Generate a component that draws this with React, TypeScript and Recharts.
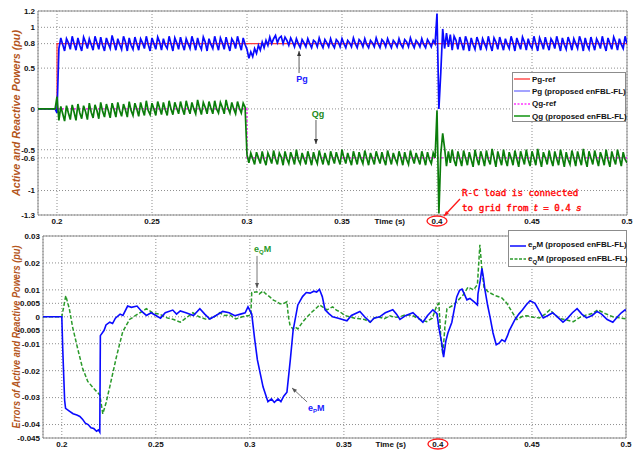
import React from 'react';
import { LineChart, Line, XAxis, YAxis, CartesianGrid, ReferenceArea, ReferenceLine, ReferenceDot } from 'recharts';

// top plot: sampled every 1 ms from 0.19 s to 0.50 s
const T0 = 0.19;
const DT = 0.001;

const pgBefore = [0, 0, 0, 0, 0, 0, 0, 0, 0, 0, -0.05];
// 0.201 .. 0.300
const pgSeg1 = [
  0.74, 0.87, 0.79, 0.71, 0.86, 0.81, 0.73, 0.89, 0.80, 0.72,
  0.87, 0.78, 0.71, 0.88, 0.82, 0.74, 0.86, 0.79, 0.72, 0.89,
  0.81, 0.73, 0.88, 0.78, 0.71, 0.87, 0.80, 0.74, 0.90, 0.81,
  0.72, 0.86, 0.79, 0.73, 0.89, 0.82, 0.71, 0.87, 0.78, 0.73,
  0.88, 0.80, 0.72, 0.86, 0.81, 0.74, 0.89, 0.79, 0.71, 0.87,
  0.80, 0.73, 0.88, 0.82, 0.72, 0.86, 0.78, 0.74, 0.89, 0.80,
  0.71, 0.87, 0.81, 0.73, 0.88, 0.79, 0.72, 0.86, 0.80, 0.74,
  0.89, 0.81, 0.72, 0.87, 0.78, 0.73, 0.88, 0.82, 0.71, 0.86,
  0.79, 0.74, 0.89, 0.80, 0.72, 0.87, 0.81, 0.73, 0.88, 0.79,
  0.71, 0.86, 0.82, 0.74, 0.89, 0.80, 0.72, 0.87, 0.79, 0.73,
];
// 0.301 .. 0.400
const pgSeg2 = [
  0.62, 0.70, 0.64, 0.74, 0.68, 0.78, 0.72, 0.82, 0.75, 0.84,
  0.78, 0.88, 0.80, 0.86, 0.90, 0.81, 0.87, 0.89, 0.80, 0.88,
  0.84, 0.78, 0.87, 0.82, 0.76, 0.86, 0.80, 0.75, 0.85, 0.81,
  0.76, 0.86, 0.80, 0.75, 0.84, 0.82, 0.76, 0.87, 0.80, 0.75,
  0.85, 0.81, 0.76, 0.86, 0.79, 0.75, 0.85, 0.82, 0.76, 0.86,
  0.80, 0.75, 0.84, 0.81, 0.76, 0.87, 0.80, 0.75, 0.85, 0.82,
  0.76, 0.86, 0.79, 0.75, 0.84, 0.81, 0.76, 0.87, 0.80, 0.75,
  0.85, 0.82, 0.76, 0.86, 0.80, 0.75, 0.84, 0.81, 0.76, 0.86,
  0.79, 0.75, 0.85, 0.82, 0.76, 0.87, 0.80, 0.75, 0.84, 0.81,
  0.76, 0.86, 0.79, 0.75, 0.85, 0.81, 0.76, 0.84, 0.80, 1.17,
];
// 0.401 .. 0.500
const pgSeg3 = [
  0.00, 0.45, 0.98, 0.74, 0.93, 0.76, 0.91, 0.72, 0.89, 0.84,
  0.73, 0.88, 0.80, 0.72, 0.89, 0.82, 0.71, 0.87, 0.79, 0.73,
  0.88, 0.81, 0.72, 0.86, 0.80, 0.74, 0.89, 0.79, 0.71, 0.87,
  0.82, 0.73, 0.88, 0.80, 0.72, 0.86, 0.79, 0.74, 0.89, 0.81,
  0.71, 0.87, 0.80, 0.73, 0.88, 0.82, 0.72, 0.86, 0.78, 0.74,
  0.89, 0.80, 0.71, 0.87, 0.81, 0.73, 0.88, 0.79, 0.72, 0.86,
  0.82, 0.74, 0.89, 0.80, 0.71, 0.87, 0.79, 0.73, 0.88, 0.81,
  0.72, 0.86, 0.80, 0.74, 0.89, 0.82, 0.71, 0.87, 0.78, 0.73,
  0.88, 0.80, 0.72, 0.86, 0.81, 0.74, 0.89, 0.79, 0.71, 0.87,
  0.80, 0.73, 0.88, 0.82, 0.72, 0.86, 0.79, 0.74, 0.89, 0.80,
];

const qgBefore = [0, 0, 0, 0, 0, 0, 0, 0, 0, 0, 0.15];
const qgSeg1 = [
  -0.14, 0.03, -0.06, -0.15, 0.04, -0.05, -0.13, 0.05, -0.04, -0.14,
  0.06, -0.05, -0.12, 0.04, -0.03, -0.13, 0.07, -0.04, -0.11, 0.05,
  -0.02, -0.12, 0.08, -0.03, -0.10, 0.06, -0.02, -0.11, 0.07, -0.01,
  -0.10, 0.08, -0.02, -0.09, 0.06, -0.01, -0.10, 0.09, -0.02, -0.08,
  0.07, 0.00, -0.09, 0.08, -0.01, -0.08, 0.10, -0.02, -0.07, 0.07,
  0.00, -0.08, 0.09, 0.01, -0.07, 0.08, -0.01, -0.08, 0.10, 0.00,
  -0.07, 0.08, 0.01, -0.06, 0.09, 0.00, -0.07, 0.10, 0.01, -0.06,
  0.08, 0.00, -0.06, 0.11, 0.01, -0.07, 0.08, 0.02, -0.06, 0.09,
  0.01, -0.06, 0.10, 0.00, -0.05, 0.08, 0.02, -0.06, 0.11, 0.01,
  -0.05, 0.08, 0.00, -0.06, 0.09, 0.01, -0.05, 0.07, 0.02, -0.56,
];
const qgSeg2 = [
  -0.66, -0.54, -0.61, -0.68, -0.53, -0.60, -0.67, -0.52, -0.62, -0.69,
  -0.54, -0.60, -0.67, -0.51, -0.61, -0.68, -0.54, -0.59, -0.69, -0.52,
  -0.61, -0.67, -0.53, -0.60, -0.68, -0.50, -0.62, -0.67, -0.54, -0.61,
  -0.68, -0.52, -0.60, -0.69, -0.53, -0.61, -0.67, -0.51, -0.60, -0.68,
  -0.54, -0.62, -0.69, -0.52, -0.60, -0.67, -0.53, -0.61, -0.68, -0.50,
  -0.60, -0.67, -0.54, -0.62, -0.69, -0.52, -0.60, -0.68, -0.53, -0.61,
  -0.67, -0.51, -0.60, -0.69, -0.54, -0.61, -0.68, -0.52, -0.60, -0.67,
  -0.53, -0.62, -0.69, -0.51, -0.60, -0.68, -0.54, -0.61, -0.67, -0.52,
  -0.60, -0.69, -0.53, -0.62, -0.68, -0.51, -0.60, -0.67, -0.54, -0.61,
  -0.68, -0.52, -0.60, -0.69, -0.53, -0.62, -0.67, -0.54, -0.60, -0.02,
];
const qgSeg3 = [
  -1.28, -0.55, -0.30, -0.48, -0.70, -0.52, -0.66, -0.50, -0.63, -0.70,
  -0.52, -0.61, -0.70, -0.51, -0.60, -0.69, -0.53, -0.62, -0.71, -0.50,
  -0.61, -0.69, -0.52, -0.60, -0.70, -0.51, -0.62, -0.68, -0.49, -0.60,
  -0.71, -0.52, -0.61, -0.69, -0.50, -0.62, -0.70, -0.53, -0.60, -0.69,
  -0.51, -0.61, -0.71, -0.52, -0.60, -0.68, -0.50, -0.62, -0.70, -0.52,
  -0.60, -0.69, -0.49, -0.61, -0.71, -0.53, -0.60, -0.68, -0.51, -0.62,
  -0.70, -0.52, -0.61, -0.69, -0.50, -0.60, -0.71, -0.53, -0.62, -0.68,
  -0.51, -0.60, -0.70, -0.52, -0.61, -0.69, -0.49, -0.62, -0.71, -0.52,
  -0.60, -0.68, -0.51, -0.61, -0.70, -0.53, -0.60, -0.69, -0.50, -0.62,
  -0.71, -0.52, -0.61, -0.68, -0.50, -0.60, -0.70, -0.53, -0.62, -0.66,
];

const pgRefPts = [[0.19, 0], [0.2, 0], [0.2, 0.8], [0.5, 0.8]];
const qgRefPts = [[0.19, 0], [0.3, 0], [0.3, -0.6], [0.5, -0.6]];

// bottom plot: [time, error]
const epPts = [
  [0.19, 0], [0.2, 0], [0.2005, -0.012], [0.2015, -0.031], [0.202, -0.034], [0.204, -0.035], [0.206, -0.036],
  [0.208, -0.0365], [0.2096, -0.037], [0.211, -0.038], [0.2125, -0.0395], [0.214, -0.04], [0.2155, -0.0412],
  [0.217, -0.0415], [0.2185, -0.0425], [0.2195, -0.042], [0.2202, -0.0428], [0.2205, -0.007], [0.2225, -0.005],
  [0.2235, -0.003], [0.2255, -0.002], [0.227, -0.0025], [0.2285, -0.0005], [0.231, 0.001], [0.2325, 0.0005],
  [0.235, 0.004], [0.237, 0.0035], [0.24, 0.004], [0.2425, 0.002], [0.245, 0.0005], [0.2475, 0.0015],
  [0.25, 0.0005], [0.2525, -0.0005], [0.255, 0.0015], [0.259, 0.0025], [0.261, 0.001], [0.263, 0.0022],
  [0.266, 0.0015], [0.27, 0.0005], [0.2734, 0.003], [0.276, 0.001], [0.2787, -0.0008], [0.282, 0.0005],
  [0.2856, 0.002], [0.289, 0.0015], [0.292, 0.0004], [0.295, 0.001], [0.2975, 0.0015], [0.299, 0.0037],
  [0.301, 0.001], [0.3025, -0.008], [0.304, -0.016], [0.307, -0.026], [0.3096, -0.0315], [0.3115, -0.0305],
  [0.313, -0.0318], [0.315, -0.0305], [0.3165, -0.0315], [0.318, -0.0295], [0.3197, -0.028], [0.3215, -0.016],
  [0.323, -0.005], [0.3255, 0.0044], [0.328, 0.0075], [0.33, 0.009], [0.332, 0.0088], [0.334, 0.0095],
  [0.3355, 0.0092], [0.337, 0.0102], [0.3385, 0.0075], [0.34, 0.0026], [0.342, 0.0012], [0.344, 0],
  [0.347, -0.0005], [0.3516, -0.0015], [0.354, 0.0005], [0.3585, 0.002], [0.361, 0], [0.364, -0.002],
  [0.366, -0.0005], [0.369, 0], [0.372, 0.0015], [0.376, 0.0026], [0.378, 0.001], [0.3798, -0.001],
  [0.383, 0.0005], [0.3867, 0.0015], [0.389, 0], [0.392, -0.002], [0.3945, 0.0005], [0.3973, 0.0026],
  [0.3995, 0.0012], [0.4005, -0.004], [0.402, -0.0097], [0.403, -0.015], [0.4042, -0.009], [0.4053, -0.006],
  [0.4074, -0.002], [0.409, 0.004], [0.41, 0.0074], [0.4115, 0.0098], [0.4128, 0.0103], [0.414, 0.0085],
  [0.4154, 0.0063], [0.417, 0.0068], [0.4191, 0.0056], [0.421, 0.0044], [0.4213, 0.0085], [0.4225, 0.0135],
  [0.4234, 0.018], [0.4242, 0.0145], [0.425, 0.01], [0.4265, 0.004], [0.4277, 0], [0.4293, -0.006],
  [0.431, -0.0104], [0.4325, -0.0098], [0.434, -0.0085], [0.4356, -0.0092], [0.437, -0.007], [0.438, -0.005],
  [0.441, -0.001], [0.443, 0.001], [0.445, 0.0026], [0.447, 0.0045], [0.449, 0.006], [0.4516, 0.005],
  [0.454, 0.002], [0.456, -0.0004], [0.4585, 0.0005], [0.461, 0.0015], [0.4635, 0], [0.4665, -0.002],
  [0.469, -0.0005], [0.4715, 0.0015], [0.474, 0.003], [0.4765, 0.001], [0.479, -0.0004], [0.482, 0.0005],
  [0.4846, 0.002], [0.487, 0.001], [0.49, -0.001], [0.493, -0.002], [0.4955, 0], [0.4975, 0.0015],
  [0.4995, 0.0026], [0.5, 0.0022],
];
const eqPts = [
  [0.19, 0], [0.2, 0], [0.2021, 0.0078], [0.204, 0.003], [0.2058, -0.004], [0.2085, -0.012], [0.211, -0.019],
  [0.2138, -0.024], [0.2175, -0.027], [0.2202, -0.029], [0.2218, -0.036], [0.2235, -0.032], [0.2255, -0.026],
  [0.229, -0.015], [0.2324, -0.0055], [0.236, -0.001], [0.2415, 0.0015], [0.245, 0.003], [0.2484, 0.0015],
  [0.252, 0.001], [0.256, -0.0004], [0.2595, -0.001], [0.263, -0.002], [0.266, -0.0005], [0.2697, 0.0015],
  [0.273, 0], [0.277, -0.001], [0.2803, -0.0004], [0.284, 0.0015], [0.2865, 0.0005], [0.2894, 0.0007],
  [0.2925, -0.0008], [0.296, 0], [0.299, 0.0004], [0.3005, 0.0005], [0.301, 0.009], [0.3037, 0.0093],
  [0.305, 0.0085], [0.307, 0.0096], [0.3085, 0.0085], [0.3106, 0.0074], [0.3125, 0.0062], [0.3144, 0.0056],
  [0.316, 0.0048], [0.3176, 0.0048], [0.3197, 0.0056], [0.3205, 0], [0.3213, -0.003], [0.3228, -0.0045],
  [0.324, -0.0038], [0.3255, -0.0045], [0.328, -0.002], [0.3305, 0], [0.333, 0.0018], [0.335, 0.003],
  [0.337, 0.0044], [0.339, 0.0035], [0.341, 0.0026], [0.344, 0.0037], [0.346, 0.0025], [0.348, 0.0018],
  [0.3505, 0.0005], [0.353, 0], [0.3558, -0.0005], [0.3585, -0.0007], [0.361, -0.001], [0.364, -0.002],
  [0.366, -0.0005], [0.368, 0], [0.3715, -0.0007], [0.3745, 0.0004], [0.377, -0.0002], [0.3798, 0],
  [0.383, 0.0008], [0.3867, 0.0004], [0.3905, -0.001], [0.394, -0.0018], [0.397, -0.0005], [0.3995, 0.0044],
  [0.4005, 0.005], [0.4016, -0.0085], [0.4026, -0.014], [0.4037, -0.0037], [0.4048, 0.003], [0.4074, 0.004],
  [0.41, 0.0056], [0.4133, 0.008], [0.416, 0.011], [0.419, 0.01], [0.421, 0.012], [0.4223, 0.0267],
  [0.4234, 0.0174], [0.4245, 0.011], [0.4266, 0.0093], [0.43, 0.008], [0.434, 0.007], [0.4367, 0.005],
  [0.4394, 0.0018], [0.442, -0.001], [0.445, 0.0002], [0.4473, 0.0004], [0.451, -0.0002], [0.454, -0.0004],
  [0.457, 0.001], [0.4596, 0.0026], [0.462, 0.0008], [0.465, -0.0007], [0.4685, -0.0012], [0.472, -0.0018],
  [0.4755, -0.0002], [0.479, 0.0007], [0.482, 0.0012], [0.485, 0.0026], [0.489, 0.0012], [0.493, 0],
  [0.4965, -0.0004], [0.5, -0.0007],
];

const timeTicks = [0.2, 0.25, 0.3, 0.35, 0.4, 0.45, 0.5];
const powerTicks = [-1.3, -1, -0.6, -0.5, 0, 0.5, 0.8, 1, 1.2];
const errorTicks = [-0.045, -0.04, -0.03, -0.02, -0.01, -0.005, 0, 0.005, 0.01, 0.02, 0.03];

const sampled = (vals: number[]) => vals.map((v, i) => ({ t: +(T0 + i * DT).toFixed(3), v }));
const pairs = (pts: number[][]) => pts.map(([t, v]) => ({ t, v }));

const pgData = sampled([...pgBefore, ...pgSeg1, ...pgSeg2, ...pgSeg3]);
const qgData = sampled([...qgBefore, ...qgSeg1, ...qgSeg2, ...qgSeg3]);

const FONT = '"Liberation Sans", Arial, sans-serif';
const MONO = '"DejaVu Sans Mono", "Liberation Mono", monospace';
const tickStyle = { fontFamily: FONT, fontSize: 8, fontWeight: 700, fill: '#111' };
const titleColor = '#b4561c';

const TimeTick = (props: any) => {
  const { x, y, payload } = props;
  const v = payload.value;
  return (
    <g>
      <text x={x} y={y} dy="0.71em" textAnchor="middle" style={tickStyle}>{v}</text>
      {v === 0.4 && (
        <>
          <ellipse cx={x} cy={y + 3} rx={10} ry={5} fill="none" stroke="#ff1a1a" strokeWidth={1.3} />
          <text x={x - 32} y={y} dy="0.71em" textAnchor="end" style={tickStyle}>Time (s)</text>
        </>
      )}
    </g>
  );
};

const axisTitle = (text: string, len: number) => (p: any) => {
  const vb = p.viewBox || {};
  const cx = (vb.x ?? 0) + 16;
  const cy = (vb.y ?? 0) + (vb.height ?? 0) / 2;
  return (
    <text
      transform={`translate(${cx},${cy}) rotate(-90)`}
      textAnchor="middle"
      dominantBaseline="central"
      textLength={len}
      lengthAdjust="spacingAndGlyphs"
      style={{ fontFamily: FONT, fontSize: 10, fontWeight: 700, fontStyle: 'italic', fill: titleColor }}
    >
      {text}
    </text>
  );
};

const arrow = (color: string) => (p: any) => {
  const { x1, y1, x2, y2 } = p;
  const a = Math.atan2(y2 - y1, x2 - x1);
  const hx = x2 - 5 * Math.cos(a);
  const hy = y2 - 5 * Math.sin(a);
  const w = 2;
  const pts = `${x2},${y2} ${hx - w * Math.sin(a)},${hy + w * Math.cos(a)} ${hx + w * Math.sin(a)},${hy - w * Math.cos(a)}`;
  return (
    <g>
      <line x1={x1} y1={y1} x2={x2} y2={y2} stroke={color} strokeWidth={color === '#ff1a1a' ? 1.4 : 0.8} />
      <polygon points={pts} fill={color} />
    </g>
  );
};

const note = (content: React.ReactNode, color: string, anchor: string, extra: any = {}) => (p: any) => (
  <text x={p.cx} y={p.cy} textAnchor={anchor} fill={color} style={{ fontFamily: FONT, fontSize: 9, fontWeight: 700, ...extra }}>
    {content}
  </text>
);

const redText = { fontFamily: MONO, fontWeight: 400, fontSize: 9.2, stroke: '#ff0000', strokeWidth: 0.35 };
const italicSerif = { fontStyle: 'italic', fontFamily: '"DejaVu Serif", "Liberation Serif", serif' };

const LegendLine = ({ color, dash }: { color: string; dash?: string }) => (
  <svg width={16} height={6} style={{ marginRight: 2, flex: 'none' }}>
    <line x1={0} y1={3} x2={16} y2={3} stroke={color} strokeWidth={1.6} strokeDasharray={dash} />
  </svg>
);

const topLegend = [
  { label: <>Pg-ref</>, color: '#ff5a5a' },
  { label: <>Pg (proposed enFBL-FL)</>, color: '#8c8cff' },
  { label: <>Qg-ref</>, color: '#ff33ff', dash: '2 1.5' },
  { label: <>Qg (proposed enFBL-FL)</>, color: '#1f9a1f' },
];
const bottomLegend = [
  { label: <>e<sub style={{ fontSize: 6 }}>P</sub>M (proposed enFBL-FL)</>, color: '#1a1aff' },
  { label: <>e<sub style={{ fontSize: 6 }}>Q</sub>M (proposed enFBL-FL)</>, color: '#2a9a2a', dash: '3 1.5' },
];

const legendText = { fontFamily: FONT, fontSize: 8, fontWeight: 700, color: '#111', whiteSpace: 'nowrap' as const };

export default function App() {
  return (
    <div style={{ position: 'absolute', left: 0, top: 0, width: 644, height: 450, background: '#fff' }}>
      <div style={{ position: 'absolute', left: 0, top: 0 }}>
        <LineChart width={644} height={228} margin={{ top: 11, right: 17, bottom: 0, left: 0 }}>
          <CartesianGrid stroke="#8f8f8f" strokeDasharray="1 2" />
          <XAxis type="number" dataKey="t" domain={[0.19, 0.5]} ticks={timeTicks} interval={0} allowDataOverflow
            height={13} tickSize={0} tickMargin={3} axisLine={false} tickLine={false} tick={<TimeTick />} />
          <YAxis type="number" domain={[-1.3, 1.2]} ticks={powerTicks} interval={0} allowDataOverflow
            width={38} tickSize={0} tickMargin={3} axisLine={false} tickLine={false} tick={tickStyle}
            label={axisTitle('Active and Reactive Powers (pu)', 166)} />
          <ReferenceArea x1={0.19} x2={0.5} y1={-1.3} y2={1.2} fill="none" stroke="#8c8c8c" strokeWidth={1} />
          <Line data={pairs(pgRefPts)} dataKey="v" stroke="#ff3b3b" strokeWidth={1.2} dot={false} isAnimationActive={false} />
          <Line data={pgData} dataKey="v" stroke="#0a0aff" strokeWidth={1.7} dot={false} isAnimationActive={false} />
          <Line data={pairs(qgRefPts)} dataKey="v" stroke="#ff00ff" strokeWidth={1.2} strokeDasharray="2 2" dot={false} isAnimationActive={false} />
          <Line data={qgData} dataKey="v" stroke="#0b7d0b" strokeWidth={1.7} dot={false} isAnimationActive={false} />
          <ReferenceLine segment={[{ x: 0.3274, y: 0.44 }, { x: 0.3274, y: 0.71 }]} ifOverflow="visible" shape={arrow('#333')} />
          <ReferenceDot x={0.3289} y={0.33} ifOverflow="visible" shape={note('Pg', '#2020ff', 'middle')} />
          <ReferenceLine segment={[{ x: 0.3363, y: -0.136 }, { x: 0.3363, y: -0.43 }]} ifOverflow="visible" shape={arrow('#333')} />
          <ReferenceDot x={0.3374} y={-0.1} ifOverflow="visible" shape={note('Qg', '#1b8a1b', 'middle')} />
          <ReferenceLine segment={[{ x: 0.4121, y: -1.104 }, { x: 0.4037, y: -1.312 }]} ifOverflow="visible" shape={arrow('#ff1a1a')} />
          <ReferenceDot x={0.4132} y={-1.067} ifOverflow="visible"
            shape={note('R-C load is connected', '#ff0000', 'start', redText)} />
          <ReferenceDot x={0.4132} y={-1.251} ifOverflow="visible"
            shape={note(<>to grid from <tspan style={italicSerif}>t</tspan> = 0.4 <tspan style={italicSerif}>s</tspan></>, '#ff0000', 'start', redText)} />
        </LineChart>
      </div>

      <div style={{ position: 'absolute', left: 0, top: 228 }}>
        <LineChart width={644} height={222} margin={{ top: 8, right: 18, bottom: 0, left: 0 }}>
          <CartesianGrid stroke="#8f8f8f" strokeDasharray="1 2" />
          <XAxis type="number" dataKey="t" domain={[0.19, 0.5]} ticks={timeTicks} interval={0} allowDataOverflow
            height={12} tickSize={0} tickMargin={3} axisLine={false} tickLine={false} tick={<TimeTick />} />
          <YAxis type="number" domain={[-0.045, 0.03]} ticks={errorTicks} interval={0} allowDataOverflow
            width={43} tickSize={0} tickMargin={3} axisLine={false} tickLine={false} tick={tickStyle}
            label={axisTitle('Errors of Active and Reactive Powers (pu)', 183)} />
          <ReferenceArea x1={0.19} x2={0.5} y1={-0.045} y2={0.03} fill="none" stroke="#8c8c8c" strokeWidth={1} />
          <Line data={pairs(eqPts)} dataKey="v" stroke="#2a9a2a" strokeWidth={1.5} strokeDasharray="4 2" dot={false} isAnimationActive={false} />
          <Line data={pairs(epPts)} dataKey="v" stroke="#0a0aff" strokeWidth={1.6} dot={false} isAnimationActive={false} />
          <ReferenceLine segment={[{ x: 0.3038, y: 0.0226 }, { x: 0.3038, y: 0.0107 }]} ifOverflow="visible" shape={arrow('#555')} />
          <ReferenceDot x={0.3022} y={0.0241} ifOverflow="visible"
            shape={note(<>e<tspan dy={2} fontSize={6}>Q</tspan><tspan dy={-2}>M</tspan></>, '#2a9a2a', 'start')} />
          <ReferenceLine segment={[{ x: 0.3304, y: -0.0316 }, { x: 0.3224, y: -0.0264 }]} ifOverflow="visible" shape={arrow('#555')} />
          <ReferenceDot x={0.3309} y={-0.035} ifOverflow="visible"
            shape={note(<>e<tspan dy={2} fontSize={6}>P</tspan><tspan dy={-2}>M</tspan></>, '#2020ff', 'start')} />
        </LineChart>
      </div>

      <div style={{ position: 'absolute', left: 512, top: 72, width: 111, height: 48, border: '1px solid #8c8c8c', background: '#fff', paddingLeft: 1 }}>
        {topLegend.map((it, i) => (
          <div key={i} style={{ display: 'flex', alignItems: 'center', height: 12.3, ...legendText }}>
            <LegendLine color={it.color} dash={it.dash} />
            <span>{it.label}</span>
          </div>
        ))}
      </div>

      <div style={{ position: 'absolute', left: 508, top: 230, width: 116, height: 27, paddingTop: 8, border: '1px solid #8c8c8c', background: '#fff', paddingLeft: 1 }}>
        {bottomLegend.map((it, i) => (
          <div key={i} style={{ display: 'flex', alignItems: 'center', height: 13.3, ...legendText }}>
            <LegendLine color={it.color} dash={it.dash} />
            <span>{it.label}</span>
          </div>
        ))}
      </div>
    </div>
  );
}
